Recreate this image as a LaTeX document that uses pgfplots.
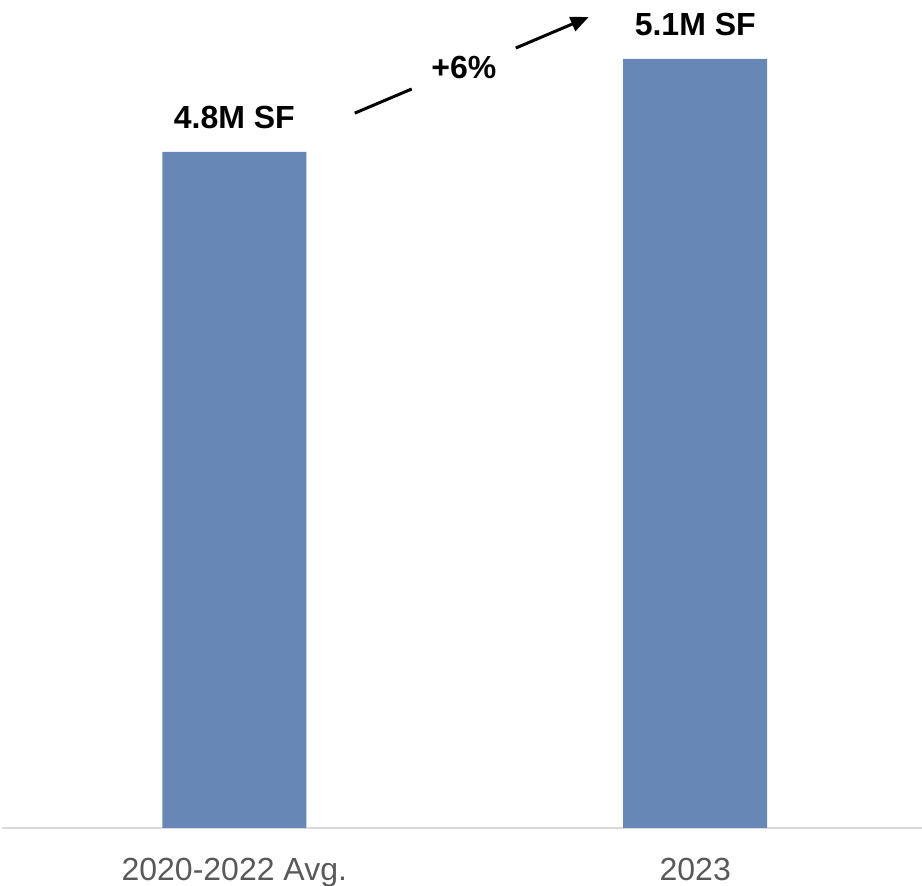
\documentclass[border=0pt]{standalone}
\usepackage{pgfplots}
\pgfplotsset{compat=1.18}
\usepackage{fontspec}
\setmainfont{Liberation Sans}
\usetikzlibrary{arrows.meta}
\definecolor{barblue}{RGB}{103,136,182}
\definecolor{axgray}{RGB}{217,217,217}
\definecolor{lblgray}{RGB}{89,89,89}
\begin{document}
\begin{tikzpicture}
\begin{axis}[
  scale only axis,
  width=920pt, height=828pt,
  xmin=-0.504, xmax=1.492,
  ymin=2.619, ymax=5.29,
  clip=false,
  axis x line=bottom,
  axis line style={-, draw=axgray, line width=2pt},
  hide y axis,
  xtick={0,1},
  xticklabels={2020-2022 Avg., 2023},
  xtick style={draw=none},
  x tick label style={font=\fontsize{32}{38}\selectfont, text=lblgray, yshift=-22pt},
  ybar, bar width=144pt,
  nodes near coords={\pgfmathprintnumber[fixed,fixed zerofill,precision=1,assume math mode=true]{\pgfplotspointmeta}M SF},
  nodes near coords style={font=\fontsize{32}{38}\selectfont\bfseries, text=black, yshift=20pt},
]
\addplot[fill=barblue, draw=none] coordinates {(0,4.8) (1,5.1)};
\draw[black, line width=3pt] (axis cs:0.2614,4.925) -- (axis cs:0.385,5.003);
\draw[black, line width=3pt, -{Triangle[length=18pt,width=15pt]}] (axis cs:0.6106,5.135) -- (axis cs:0.769,5.235);
\node[font=\fontsize{32}{38}\selectfont\bfseries, text=black] at (axis cs:0.498,5.071) {+6\%};
\end{axis}
\pgfresetboundingbox
\path (current axis.south west) ++(-2pt,-58pt) rectangle (current axis.north east);
\end{tikzpicture}
\end{document}
